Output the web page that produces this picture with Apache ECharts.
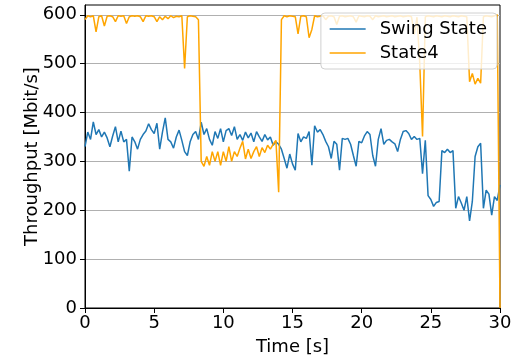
<!DOCTYPE html>
<html><head><meta charset="utf-8">
<script src="https://cdn.jsdelivr.net/npm/echarts@6/dist/echarts.min.js"></script>
<style>html,body{margin:0;padding:0;background:#fff}#c{width:516px;height:361px}</style>
</head><body><div id="c"></div>
<script>
var step = 0.2;
var swingState = [
330,360,345,381,355,365,350,360,348,330,
352,371,340,362,340,345,280,350,340,325,
345,355,362,377,365,357,378,325,360,389,
345,340,327,350,364,343,320,312,340,355,
361,345,380,355,367,345,333,361,347,367,
340,363,367,353,371,345,355,343,360,348,
358,340,361,350,341,355,344,350,333,340,
335,325,306,286,315,295,282,357,340,350,
347,361,292,373,360,365,355,341,330,306,
341,335,282,347,345,347,335,312,290,341,
338,352,361,355,312,290,345,367,335,343,
345,340,336,320,345,361,363,357,345,351,
345,347,275,343,230,222,208,216,218,322,
318,325,318,322,204,228,215,200,228,178,
218,310,330,337,204,241,233,190,228,220,
252];
var state4 = [
590,598,596,598,565,596,598,577,597,598,
596,586,598,597,598,582,596,598,597,598,
596,586,598,597,598,596,586,596,590,597,
592,598,594,597,596,598,490,596,598,597,
596,590,300,290,310,292,320,300,320,292,
320,300,330,300,320,310,327,341,305,325,
306,320,330,310,328,318,333,325,335,343,
237,590,598,596,598,597,596,561,597,598,
596,553,570,598,596,597,598,590,597,598,
596,580,597,598,596,597,598,596,585,598,
597,596,598,597,590,598,596,597,598,596,
597,598,596,597,598,596,597,598,596,560,
595,500,351,596,598,597,596,598,597,596,
598,597,596,598,597,596,598,597,596,463,
480,458,470,460,596,598,597,596,598,600,
0];
var yTicks = [0,100,200,300,400,500,600];
var xTicks = [0,5,10,15,20,25,30];

function pairs(arr){ return arr.map(function(v,i){ return [+(i*step).toFixed(1), v]; }); }
var font = 'DejaVu Sans';
var fs = 18;
var chart = echarts.init(document.getElementById('c'), null, {renderer:'canvas'});
chart.setOption({
  animation:false,
  backgroundColor:'#fff',
  grid:{left:85,right:16,top:5,bottom:51,show:true,borderColor:'#000',borderWidth:1,backgroundColor:'transparent'},
  legend:{
    orient:'vertical', right:19, top:13,
    data:['Swing State','State4'],
    backgroundColor:'rgba(255,255,255,0.8)', borderColor:'#d0d0d0', borderWidth:1, borderRadius:4,
    padding:[7,10,7,8], itemGap:6, itemWidth:36, itemHeight:14,
    itemStyle:{opacity:0},
    lineStyle:{width:1.5},
    textStyle:{fontFamily:font,fontSize:fs,color:'#000',padding:[0,0,0,9]}
  },
  xAxis:{
    type:'value', min:0, max:30, interval:5,
    name:'Time [s]', nameLocation:'middle', nameGap:30, nameMoveOverlap:false,
    nameTextStyle:{fontFamily:font,fontSize:fs,color:'#000'},
    axisLine:{lineStyle:{color:'#000',width:1}},
    axisTick:{show:true,length:5,inside:false,lineStyle:{color:'#000'}},
    axisLabel:{fontFamily:font,fontSize:fs,color:'#000',margin:6,customValues:xTicks},
    splitLine:{show:false}
  },
  yAxis:{
    type:'value', min:0, max:620, interval:100,
    name:'Throughput [Mbit/s]', nameLocation:'middle', nameGap:44, nameMoveOverlap:false,
    nameTextStyle:{fontFamily:font,fontSize:fs,color:'#000'},
    axisLine:{show:true,lineStyle:{color:'#000',width:1}},
    axisTick:{show:true,length:5,lineStyle:{color:'#000'},customValues:yTicks},
    axisLabel:{fontFamily:font,fontSize:fs,color:'#000',margin:8,customValues:yTicks},
    splitLine:{show:true,lineStyle:{color:'#b0b0b0',width:1}}
  },
  series:[
    {name:'Swing State',type:'line',data:pairs(swingState),symbol:'none',lineStyle:{color:'#1f77b4',width:1.5},itemStyle:{color:'#1f77b4'},z:2},
    {name:'State4',type:'line',data:pairs(state4),symbol:'none',lineStyle:{color:'#FFA500',width:1.5},itemStyle:{color:'#FFA500'},z:3}
  ]
});
</script></body></html>
